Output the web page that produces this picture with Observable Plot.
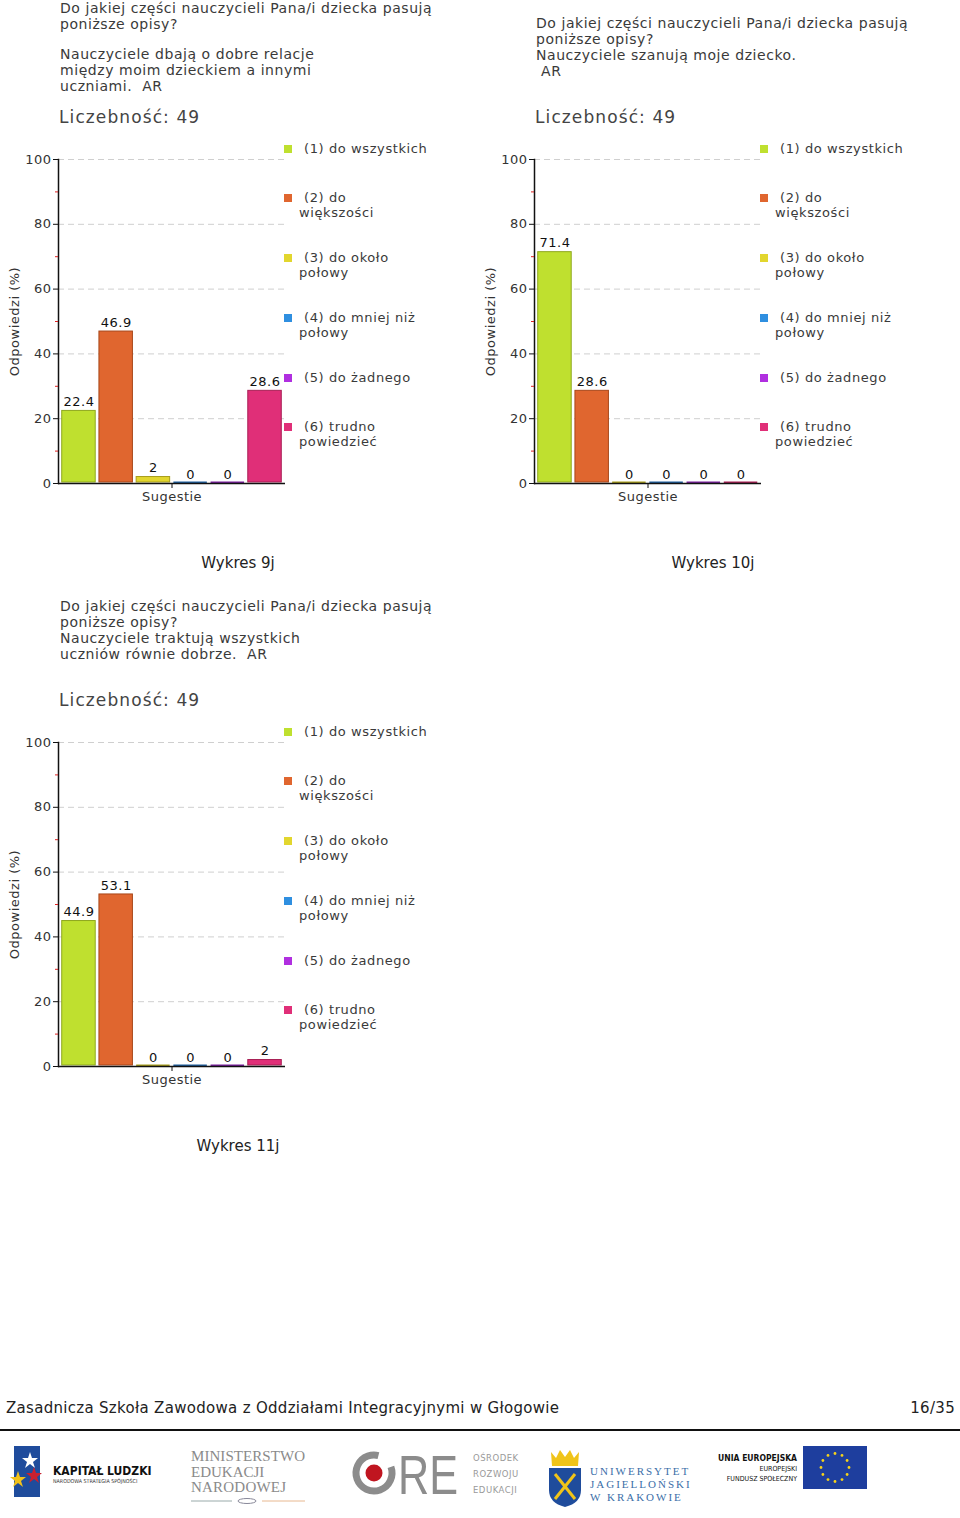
<!DOCTYPE html>
<html>
<head>
<meta charset="utf-8">
<script src="https://cdn.jsdelivr.net/npm/d3@7"></script>
<script src="https://cdn.jsdelivr.net/npm/@observablehq/plot@0.6"></script>
<style>
  html, body { margin: 0; padding: 0; background: #fff; }
  body { width: 960px; height: 1518px; position: relative; overflow: hidden; font-family: "DejaVu Sans", Verdana, sans-serif; color: #333; }
  .abs { position: absolute; }
  .title { font-size: 14px; line-height: 16px; color: #3a3a3a; white-space: pre; letter-spacing: 0.55px; }
  .title .gap { height: 14px; }
  .count { font-size: 17px; line-height: 22px; color: #444; white-space: pre; letter-spacing: 1.1px; }
  .legend { font-size: 13px; line-height: 15px; color: #3a3a3a; letter-spacing: 0.6px; }
  .legend .item { display: flex; align-items: flex-start; margin-bottom: 30px; min-height: 19px; }
  .legend .sw { width: 8px; height: 8px; margin-top: 4px; margin-right: 7px; flex: none; }
  .legend .txt { white-space: pre-line; text-indent: 5px; }
  .caption { font-size: 15px; color: #222; transform: translateX(-50%); white-space: nowrap; }
  .footer { font-size: 15px; color: #222; letter-spacing: 0.3px; }
</style>
</head>
<body>
<div id="root"></div>
<script>
// ---------------- data ----------------
const categories = ["(1) do wszystkich", "(2) do większości", "(3) do około połowy", "(4) do mniej niż połowy", "(5) do żadnego", "(6) trudno powiedzieć"];
const legendLabels = ["(1) do wszystkich", "(2) do\nwiększości", "(3) do około\npołowy", "(4) do mniej niż\npołowy", "(5) do żadnego", "(6) trudno\npowiedzieć"];
const fillColors = ["#bfe02f", "#e0662f", "#e2d62e", "#2f8fe0", "#b02fe0", "#e02f78"];
const strokeColors = ["#8fa81e", "#a8471a", "#a89e1c", "#1f5f9e", "#7a1f9e", "#a81f55"];
const groupLabel = "Sugestie";
const yLabel = "Odpowiedzi (%)";
const yTicks = [0, 20, 40, 60, 80, 100];
const yMinorTicks = [10, 30, 50, 70, 90];
const gridTicks = [20, 40, 60, 80, 100];

const values9j = [22.4, 46.9, 2, 0, 0, 28.6];
const values10j = [71.4, 28.6, 0, 0, 0, 0];
const values11j = [44.9, 53.1, 0, 0, 0, 2];

const titles9j = [["Do jakiej części nauczycieli Pana/i dziecka pasują", "poniższe opisy?"], ["Nauczyciele dbają o dobre relacje", "między moim dzieckiem a innymi", "uczniami.  AR"]];
const titles10j = [["Do jakiej części nauczycieli Pana/i dziecka pasują", "poniższe opisy?", "Nauczyciele szanują moje dziecko.", " AR"]];
const titles11j = [["Do jakiej części nauczycieli Pana/i dziecka pasują", "poniższe opisy?", "Nauczyciele traktują wszystkich", "uczniów równie dobrze.  AR"]];
const countText = "Liczebność: 49";
const captions = ["Wykres 9j", "Wykres 10j", "Wykres 11j"];
const footerText = "Zasadnicza Szkoła Zawodowa z Oddziałami Integracyjnymi w Głogowie";
const pageText = "16/35";

// ---------------- drawing ----------------
const root = document.getElementById("root");

function el(tag, cls, css, text) {
  const e = document.createElement(tag);
  if (cls) e.className = cls;
  if (css) Object.assign(e.style, css);
  if (text != null) e.textContent = text;
  return e;
}

function chart(values) {
  const data = categories.map((c, i) => ({group: groupLabel, category: c, value: values[i], stroke: strokeColors[i]}));
  return Plot.plot({
    width: 290,
    height: 375,
    marginLeft: 58,
    marginRight: 5,
    marginTop: 19,
    marginBottom: 32,
    style: {fontFamily: "DejaVu Sans, Verdana, sans-serif", fontSize: "13px", color: "#333", background: "transparent", overflow: "visible", letterSpacing: "0.5px"},
    fx: {domain: [groupLabel], padding: 0},
    x: {domain: categories, padding: 0.1, round: false, axis: null},
    y: {domain: [0, 100]},
    color: {domain: categories, range: fillColors},
    marks: [
      Plot.gridY(gridTicks, {stroke: "#cfcfcf", strokeOpacity: 1, strokeDasharray: "6,4"}),
      Plot.tickY(data.filter(d => d.value === 0), {fx: "group", x: "category", y: "value", stroke: "stroke", strokeWidth: 2, dy: -1}),
      Plot.barY(data.filter(d => d.value > 0), {fx: "group", x: "category", y: "value", fill: "category", stroke: "stroke", strokeWidth: 1, insetBottom: 1}),
      Plot.text(data, {fx: "group", x: "category", y: "value", text: d => String(d.value), dy: -9, fill: "#111", fontSize: 13}),
      Plot.ruleY([0], {stroke: "#111", strokeWidth: 1.5}),
      Plot.frame({anchor: "left", stroke: "#111", strokeWidth: 1.5}),
      Plot.axisY({ticks: yMinorTicks, tickSize: 3, stroke: "#d22", tickFormat: () => "", label: null}),
      Plot.axisY({ticks: yTicks, tickSize: 5, tickPadding: 2, stroke: "#111", fill: "#333", fontSize: 13, label: yLabel, labelAnchor: "center", labelArrow: "none", labelOffset: 49}),
      Plot.axisFx({anchor: "bottom", tickSize: 5, tickPadding: 3, stroke: "#111", fill: "#333", fontSize: 13, label: null})
    ]
  });
}

function block({values, titleGroups, titleTop, left, chartTop, caption, captionX, captionY, countTop}) {
  const t = el("div", "abs title", {left: (left + 60) + "px", top: titleTop + "px"});
  titleGroups.forEach((g, gi) => {
    if (gi > 0) t.appendChild(el("div", "gap"));
    g.forEach(line => t.appendChild(el("div", null, null, line)));
  });
  root.appendChild(t);
  root.appendChild(el("div", "abs count", {left: (left + 59) + "px", top: countTop + "px"}, countText));
  const wrap = el("div", "abs", {left: left + "px", top: chartTop + "px"});
  wrap.appendChild(chart(values));
  root.appendChild(wrap);
  const lg = el("div", "abs legend", {left: (left + 284) + "px", top: (chartTop + 0.5) + "px"});
  legendLabels.forEach((lab, i) => {
    const it = el("div", "item");
    it.appendChild(el("div", "sw", {background: fillColors[i]}));
    it.appendChild(el("div", "txt", null, lab));
    lg.appendChild(it);
  });
  root.appendChild(lg);
  root.appendChild(el("div", "abs caption", {left: captionX + "px", top: captionY + "px"}, caption));
}

block({values: values9j, titleGroups: titles9j, titleTop: 0, left: 0, chartTop: 140, countTop: 106, caption: captions[0], captionX: 238, captionY: 554});
block({values: values10j, titleGroups: titles10j, titleTop: 15, left: 476, chartTop: 140, countTop: 106, caption: captions[1], captionX: 713, captionY: 554});
block({values: values11j, titleGroups: titles11j, titleTop: 598, left: 0, chartTop: 723, countTop: 689, caption: captions[2], captionX: 238, captionY: 1137});

// footer
root.appendChild(el("div", "abs footer", {left: "6px", top: "1399px"}, footerText));
root.appendChild(el("div", "abs footer", {right: "5px", top: "1399px"}, pageText));
root.appendChild(el("div", "abs", {left: "0px", top: "1429px", width: "960px", height: "2px", background: "#111"}));

const logos = `
<svg width="960" height="78" viewBox="0 1440 960 78" xmlns="http://www.w3.org/2000/svg" style="position:absolute;left:0;top:1440px">
  <polygon points="14,1446 40,1446 40,1497 14,1497" fill="#1f4c9c"/>
  <polygon points="30,1452 32,1458 38,1458 33,1462 35,1468 30,1464 25,1468 27,1462 22,1458 28,1458" fill="#fff"/>
  <polygon points="18,1471 20,1477 26,1477 21,1481 23,1487 18,1483 13,1487 15,1481 10,1477 16,1477" fill="#f2c21a"/>
  <polygon points="34,1467 36,1473 42,1473 37,1477 39,1483 34,1479 29,1483 31,1477 26,1473 32,1473" fill="#c8202f"/>
  <text x="53" y="1475" font-family="DejaVu Sans Condensed, DejaVu Sans" font-weight="bold" font-size="12" fill="#111">KAPITAŁ LUDZKI</text>
  <text x="53" y="1483" font-family="DejaVu Sans Condensed, DejaVu Sans" font-size="5.3" fill="#333">NARODOWA STRATEGIA SPÓJNOŚCI</text>
  <g font-family="Liberation Serif, serif" font-size="15" fill="#8a8a8a">
    <text x="191" y="1461" textLength="114">MINISTERSTWO</text>
    <text x="191" y="1477">EDUKACJI</text>
    <text x="191" y="1492" textLength="95">NARODOWEJ</text>
  </g>
  <line x1="191" y1="1501" x2="232" y2="1501" stroke="#9aa" stroke-width="1"/>
  <line x1="262" y1="1501" x2="305" y2="1501" stroke="#e8b890" stroke-width="1"/>
  <ellipse cx="247" cy="1501" rx="9" ry="2.5" fill="none" stroke="#889" stroke-width="1"/>
  <circle cx="374" cy="1473" r="18" fill="none" stroke="#8c8c8c" stroke-width="7" stroke-dasharray="95,18" transform="rotate(-20 374 1473)"/>
  <circle cx="374" cy="1473" r="8.5" fill="#c01520"/>
  <text x="398" y="1494" font-family="Liberation Sans, sans-serif" font-size="56" fill="#8c8c8c" textLength="60" lengthAdjust="spacingAndGlyphs">RE</text>
  <g font-family="DejaVu Sans, sans-serif" font-size="8.5" fill="#999" letter-spacing="0.5">
    <text x="473" y="1461">OŚRODEK</text>
    <text x="473" y="1477">ROZWOJU</text>
    <text x="473" y="1493">EDUKACJI</text>
  </g>
  <polygon points="551,1452 556,1458 560,1450 565,1457 570,1450 574,1458 579,1452 578,1466 552,1466" fill="#f0c419"/>
  <path d="M549,1468 L581,1468 L581,1490 Q581,1503 565,1507 Q549,1503 549,1490 Z" fill="#1f4c9c"/>
  <line x1="555" y1="1474" x2="575" y2="1499" stroke="#f0c419" stroke-width="3"/>
  <line x1="575" y1="1474" x2="555" y2="1499" stroke="#f0c419" stroke-width="3"/>
  <g font-family="Liberation Serif, serif" font-size="11" fill="#3a6ea8" letter-spacing="2">
    <text x="590" y="1475">UNIWERSYTET</text>
    <text x="590" y="1488">JAGIELLOŃSKI</text>
    <text x="590" y="1501">W KRAKOWIE</text>
  </g>
  <g font-family="DejaVu Sans Condensed, DejaVu Sans" fill="#111" text-anchor="end">
    <text x="797" y="1461" font-size="8.5" font-weight="bold">UNIA EUROPEJSKA</text>
    <text x="797" y="1471" font-size="7">EUROPEJSKI</text>
    <text x="797" y="1481" font-size="7">FUNDUSZ SPOŁECZNY</text>
  </g>
  <rect x="803" y="1446" width="64" height="43" fill="#1e3e9e"/>
  <g fill="#f6d21a">
    ${d3.range(12).map(i => { const a = i * Math.PI / 6; return `<circle cx="${(835 + 14 * Math.cos(a)).toFixed(1)}" cy="${(1467.5 + 14 * Math.sin(a)).toFixed(1)}" r="1.4"/>`; }).join("")}
  </g>
</svg>`;
root.insertAdjacentHTML("beforeend", logos);
</script>
</body>
</html>
